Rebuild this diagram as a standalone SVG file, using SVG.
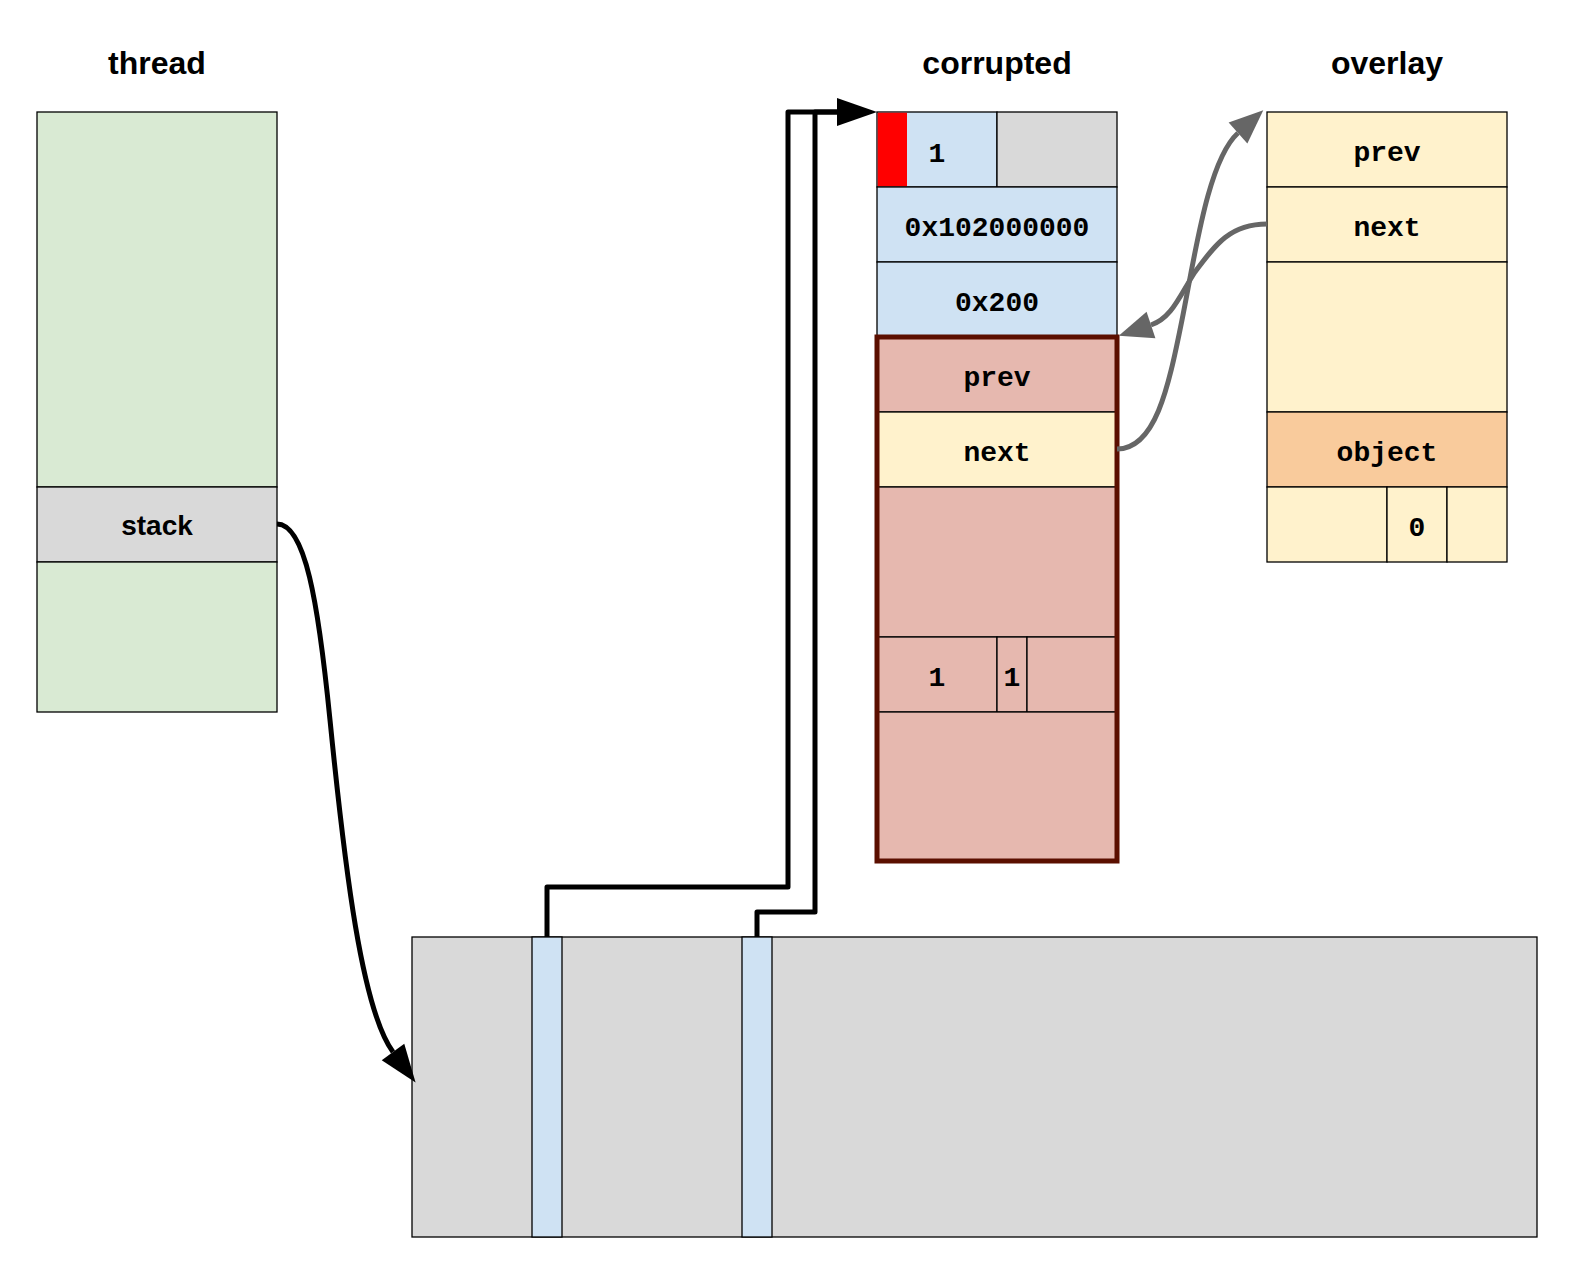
<svg xmlns="http://www.w3.org/2000/svg" width="1575" height="1275" viewBox="0 0 1575 1275">
<style>
.c{stroke:#000;stroke-width:1.3}
.t{font-family:"Liberation Sans",Arial,sans-serif;font-weight:bold;font-size:32px;text-anchor:middle;fill:#000}
.s{font-family:"Liberation Sans",Arial,sans-serif;font-weight:bold;font-size:28px;text-anchor:middle;fill:#000}
.m{font-family:"Liberation Mono","Courier New",monospace;font-weight:bold;font-size:28px;text-anchor:middle;fill:#000}
.blue{fill:#cfe2f3}.gray{fill:#d9d9d9}.green{fill:#d9ead3}.pink{fill:#e6b8af}.yel{fill:#fff2cc}.org{fill:#f9cb9c}
.bk{fill:none;stroke:#000;stroke-width:5;stroke-linejoin:round}
.gr{fill:none;stroke:#666;stroke-width:5}
</style>
<defs>
<marker id="ab" markerUnits="userSpaceOnUse" markerWidth="40" markerHeight="28" refX="0" refY="14" orient="auto" overflow="visible"><path d="M0,0 L40,14 L0,28 Z" fill="#000"/></marker>
<marker id="as" markerUnits="userSpaceOnUse" markerWidth="38" markerHeight="28" refX="0" refY="14" orient="auto" overflow="visible"><path d="M0,0 L38,14 L0,28 Z" fill="#000"/></marker>
<marker id="ag" markerUnits="userSpaceOnUse" markerWidth="34" markerHeight="28" refX="0" refY="14" orient="auto" overflow="visible"><path d="M0,0 L34,14 L0,28 Z" fill="#666"/></marker>
</defs>
<rect width="1575" height="1275" fill="#fff"/>

<g id="titles">
<text class="t" x="157" y="74">thread</text>
<text class="t" x="997" y="74">corrupted</text>
<text class="t" x="1387" y="74">overlay</text>
</g>

<g id="thread">
<rect class="c green" x="37" y="112" width="240" height="375"/>
<rect class="c gray" x="37" y="487" width="240" height="75"/>
<text class="s" x="157" y="535">stack</text>
<rect class="c green" x="37" y="562" width="240" height="150"/>
</g>

<g id="corrupted-header">
<rect class="c blue" x="877" y="112" width="120" height="75"/>
<rect x="877.7" y="112.7" width="29.3" height="73.6" fill="#ff0000"/>
<text class="m" x="937" y="162">1</text>
<rect class="c gray" x="997" y="112" width="120" height="75"/>
<rect class="c blue" x="877" y="187" width="240" height="75"/>
<text class="m" x="997" y="236">0x102000000</text>
<rect class="c blue" x="877" y="262" width="240" height="75"/>
<text class="m" x="997" y="311">0x200</text>
</g>

<g id="corrupted-body">
<rect class="c pink" x="877" y="337" width="240" height="75"/>
<text class="m" x="997" y="386">prev</text>
<rect class="c yel" x="877" y="412" width="240" height="75"/>
<text class="m" x="997" y="461">next</text>
<rect class="c pink" x="877" y="487" width="240" height="150"/>
<rect class="c pink" x="877" y="637" width="120" height="75"/>
<text class="m" x="937" y="686">1</text>
<rect class="c pink" x="997" y="637" width="30" height="75"/>
<text class="m" x="1012" y="686">1</text>
<rect class="c pink" x="1027" y="637" width="90" height="75"/>
<rect class="c pink" x="877" y="712" width="240" height="149"/>
<rect x="877" y="337" width="240" height="524" fill="none" stroke="#5b0f00" stroke-width="5"/>
</g>

<g id="overlay">
<rect class="c yel" x="1267" y="112" width="240" height="75"/>
<text class="m" x="1387" y="161">prev</text>
<rect class="c yel" x="1267" y="187" width="240" height="75"/>
<text class="m" x="1387" y="236">next</text>
<rect class="c yel" x="1267" y="262" width="240" height="150"/>
<rect class="c org" x="1267" y="412" width="240" height="75"/>
<text class="m" x="1387" y="461">object</text>
<rect class="c yel" x="1267" y="487" width="120" height="75"/>
<rect class="c yel" x="1387" y="487" width="60" height="75"/>
<text class="m" x="1417" y="536">0</text>
<rect class="c yel" x="1447" y="487" width="60" height="75"/>
</g>

<g id="stack-memory">
<rect class="c gray" x="412" y="937" width="1125" height="300"/>
<rect class="c blue" x="532" y="937" width="30" height="300"/>
<rect class="c blue" x="742" y="937" width="30" height="300"/>
</g>

<g id="connectors">
<path class="bk" d="M277,524 C305,524 318,600 330,720 C345,870 362,1010 393,1052" marker-end="url(#as)"/>
<path class="bk" d="M547,937 V887 H788 V112 H837" marker-end="url(#ab)"/>
<path class="bk" d="M757,937 V912 H815 V112 H837"/>
<path class="gr" d="M1117,449 C1155,449 1168,390 1182,320 C1195,255 1208,160 1238,133" marker-end="url(#ag)"/>
<path class="gr" d="M1267,224 C1230,224 1215,245 1195,272 C1180,295 1172,318 1151,325" marker-end="url(#ag)"/>
</g>
</svg>
